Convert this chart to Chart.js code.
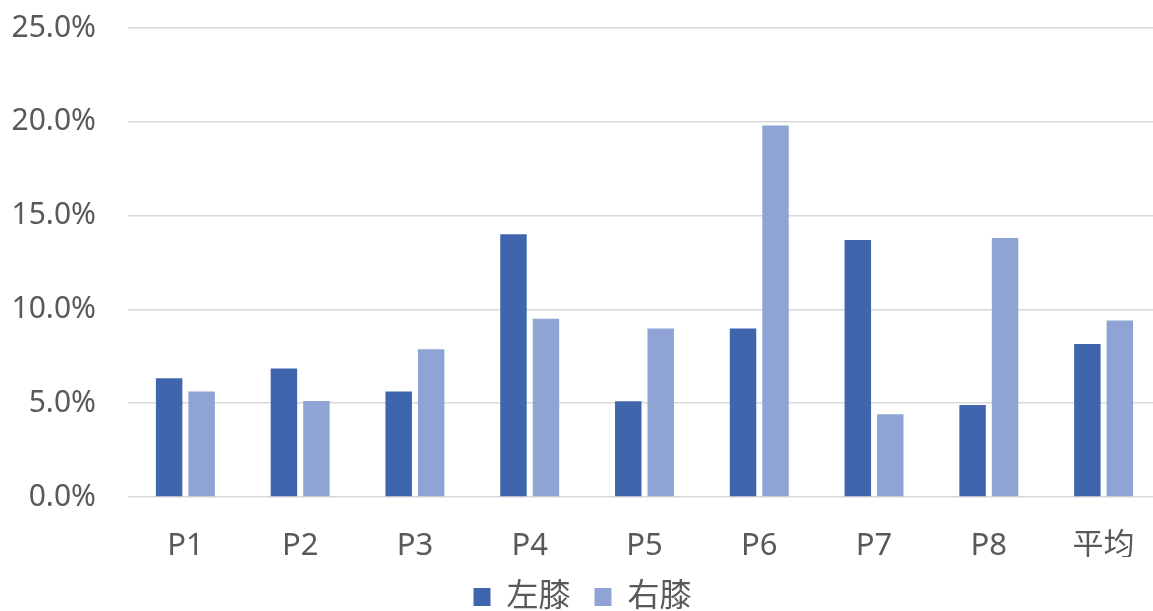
<!DOCTYPE html>
<html>
<head>
<meta charset="utf-8">
<script src="https://cdn.jsdelivr.net/npm/chart.js@4/dist/chart.umd.min.js"></script>
<style>
  html, body { margin: 0; padding: 0; background: #fff; overflow: hidden; }
  /* kuva on rajattu oikealta, joten kaavio on hieman ikkunaa leveämpi */
  #wrap { width: 1161px; height: 611px; position: relative; }
</style>
</head>
<body>
<div id="wrap"><canvas id="kaavio"></canvas></div>
<script>
// luokat ja sarjat (prosentteina)
const kategoriat = ["P1", "P2", "P3", "P4", "P5", "P6", "P7", "P8", "平均"];
const vasenPolvi = [6.33, 6.85, 5.62, 14.0, 5.1, 8.98, 13.7, 4.9, 8.16];
const oikeaPolvi = [5.62, 5.12, 7.88, 9.5, 8.98, 19.8, 4.41, 13.8, 9.41];
const sarjaNimet = ["左膝", "右膝"];
const yMax = 25;
const yAskel = 5;

const fontti = "'Noto Sans', 'Noto Sans CJK SC', sans-serif";
const tekstiVari = "#595959";

const ctx = document.getElementById("kaavio").getContext("2d");
new Chart(ctx, {
  type: "bar",
  data: {
    labels: kategoriat,
    datasets: [
      {
        label: sarjaNimet[0],
        data: vasenPolvi,
        backgroundColor: "#3f65ad",
        borderWidth: 0,
      },
      {
        label: sarjaNimet[1],
        data: oikeaPolvi,
        backgroundColor: "#8fa4d4",
        borderWidth: 0,
      },
    ],
  },
  options: {
    responsive: true,
    maintainAspectRatio: false,
    animation: false,
    layout: { padding: { top: 0, right: 0, left: 4, bottom: -12 } },
    datasets: {
      bar: { categoryPercentage: 0.566, barPercentage: 0.815 },
    },
    plugins: {
      tooltip: { enabled: false },
      legend: {
        position: "bottom",
        labels: {
          color: tekstiVari,
          font: { family: fontti, size: 32 },
          boxWidth: 17,
          boxHeight: 18,
          padding: 24,
        },
      },
    },
    scales: {
      x: {
        grid: { display: false },
        border: { display: false },
        ticks: {
          color: tekstiVari,
          font: { family: fontti, size: 31 },
          padding: 23,
        },
        afterFit: (s) => {
          s.height = 60;
          s.paddingLeft = 0;
          s.paddingRight = 0;
        },
      },
      y: {
        min: 0,
        max: yMax,
        border: { display: false },
        grid: { color: "#d9d9d9", lineWidth: 1.5, drawTicks: false },
        ticks: {
          stepSize: yAskel,
          color: tekstiVari,
          font: { family: fontti, size: 30 },
          padding: 32,
          callback: (v) => v.toFixed(1) + "%",
        },
        afterFit: (s) => {
          s.width = 124;
          s.paddingTop = 28;
          s.paddingBottom = 0;
        },
      },
    },
  },
});
</script>
</body>
</html>
